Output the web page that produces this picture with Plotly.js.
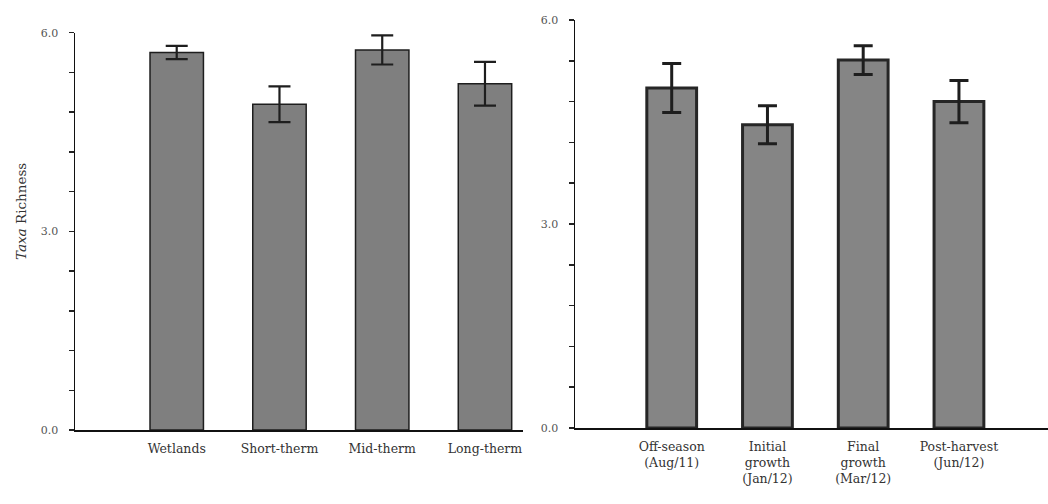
<!DOCTYPE html>
<html>
<head>
<meta charset="utf-8">
<script src="https://cdn.plot.ly/plotly-3.0.1.min.js"></script>
<style>html,body{margin:0;padding:0;background:#fff}#chart{width:1048px;height:504px}</style>
</head>
<body>
<div id="chart"></div>
<script>
// Left panel: hydroperiod categories
const leftCategories = ["Wetlands", "Short-therm", "Mid-therm", "Long-therm"];
const leftValues = [5.70, 4.92, 5.74, 5.23];
const leftErrors = [0.10, 0.27, 0.22, 0.33];

// Right panel: rice-cultivation phases
const rightCategories = ["Off-season<br>(Aug/11)", "Initial<br>growth<br>(Jan/12)", "Final<br>growth<br>(Mar/12)", "Post-harvest<br>(Jun/12)"];
const rightValues = [5.00, 4.46, 5.41, 4.80];
const rightErrors = [0.36, 0.28, 0.21, 0.31];

// Y axis ticks
const yTickVals = [0, 0.6, 1.2, 1.8, 2.4, 3.0, 3.6, 4.2, 4.8, 5.4, 6.0];
const yTickText = ["0.0", "", "", "", "", "3.0", "", "", "", "", "6.0"];

const W = 1048, H = 504;
const serif = "DejaVu Serif, Liberation Serif, serif";

const traces = [
  {
    type: "bar", x: leftCategories, y: leftValues, xaxis: "x", yaxis: "y",
    width: 0.52,
    marker: {color: "#7f7f7f", line: {color: "#1e1e1e", width: 1.5}},
    error_y: {type: "data", array: leftErrors, visible: true, color: "#1e1e1e", thickness: 2.2, width: 11},
    hoverinfo: "skip"
  },
  {
    type: "bar", x: rightCategories, y: rightValues, xaxis: "x2", yaxis: "y2",
    width: 0.52,
    marker: {color: "#858585", line: {color: "#262626", width: 3}},
    error_y: {type: "data", array: rightErrors, visible: true, color: "#1e1e1e", thickness: 3, width: 9.5},
    hoverinfo: "skip"
  }
];

const yaxisCommon = {
  range: [0, 6], tickmode: "array", tickvals: yTickVals, ticktext: yTickText,
  ticks: "outside", ticklen: 5, tickcolor: "#222", tickwidth: 1.5,
  showline: true, linecolor: "#111", linewidth: 1.5, showgrid: false, zeroline: false,
  tickfont: {family: serif, size: 11, color: "#555"}, ticklabelstandoff: 8, fixedrange: true
};
const xaxisCommon = {
  type: "category", showline: true, linecolor: "#111", linewidth: 1.5, ticks: "", showgrid: false,
  zeroline: false, tickfont: {family: serif, size: 12.5, color: "#333"}, fixedrange: true, tickangle: 0,
  ticklabelstandoff: 6
};

const layout = {
  width: W, height: H,
  margin: {l: 0, r: 0, t: 0, b: 0},
  paper_bgcolor: "#fff", plot_bgcolor: "#fff",
  showlegend: false,
  font: {family: serif},
  xaxis: Object.assign({}, xaxisCommon, {domain: [75 / W, 523 / W], range: [-0.99, 3.37], anchor: "y"}),
  yaxis: Object.assign({}, yaxisCommon, {domain: [(H - 430) / H, (H - 32.7) / H], anchor: "x"}),
  xaxis2: Object.assign({}, xaxisCommon, {domain: [575 / W, 1], range: [-1.01, 3.93], anchor: "y2"}),
  yaxis2: Object.assign({}, yaxisCommon, {domain: [(H - 428) / H, (H - 20) / H], anchor: "x2"}),
  annotations: [
    {
      text: "<i>Taxa</i> Richness", xref: "paper", yref: "paper",
      x: 21 / W, y: (H - 212) / H, xanchor: "center", yanchor: "middle",
      textangle: -90, showarrow: false,
      font: {family: serif, size: 13.5, color: "#333"}
    }
  ]
};

Plotly.newPlot("chart", traces, layout, {displayModeBar: false, staticPlot: true});
</script>
</body>
</html>
